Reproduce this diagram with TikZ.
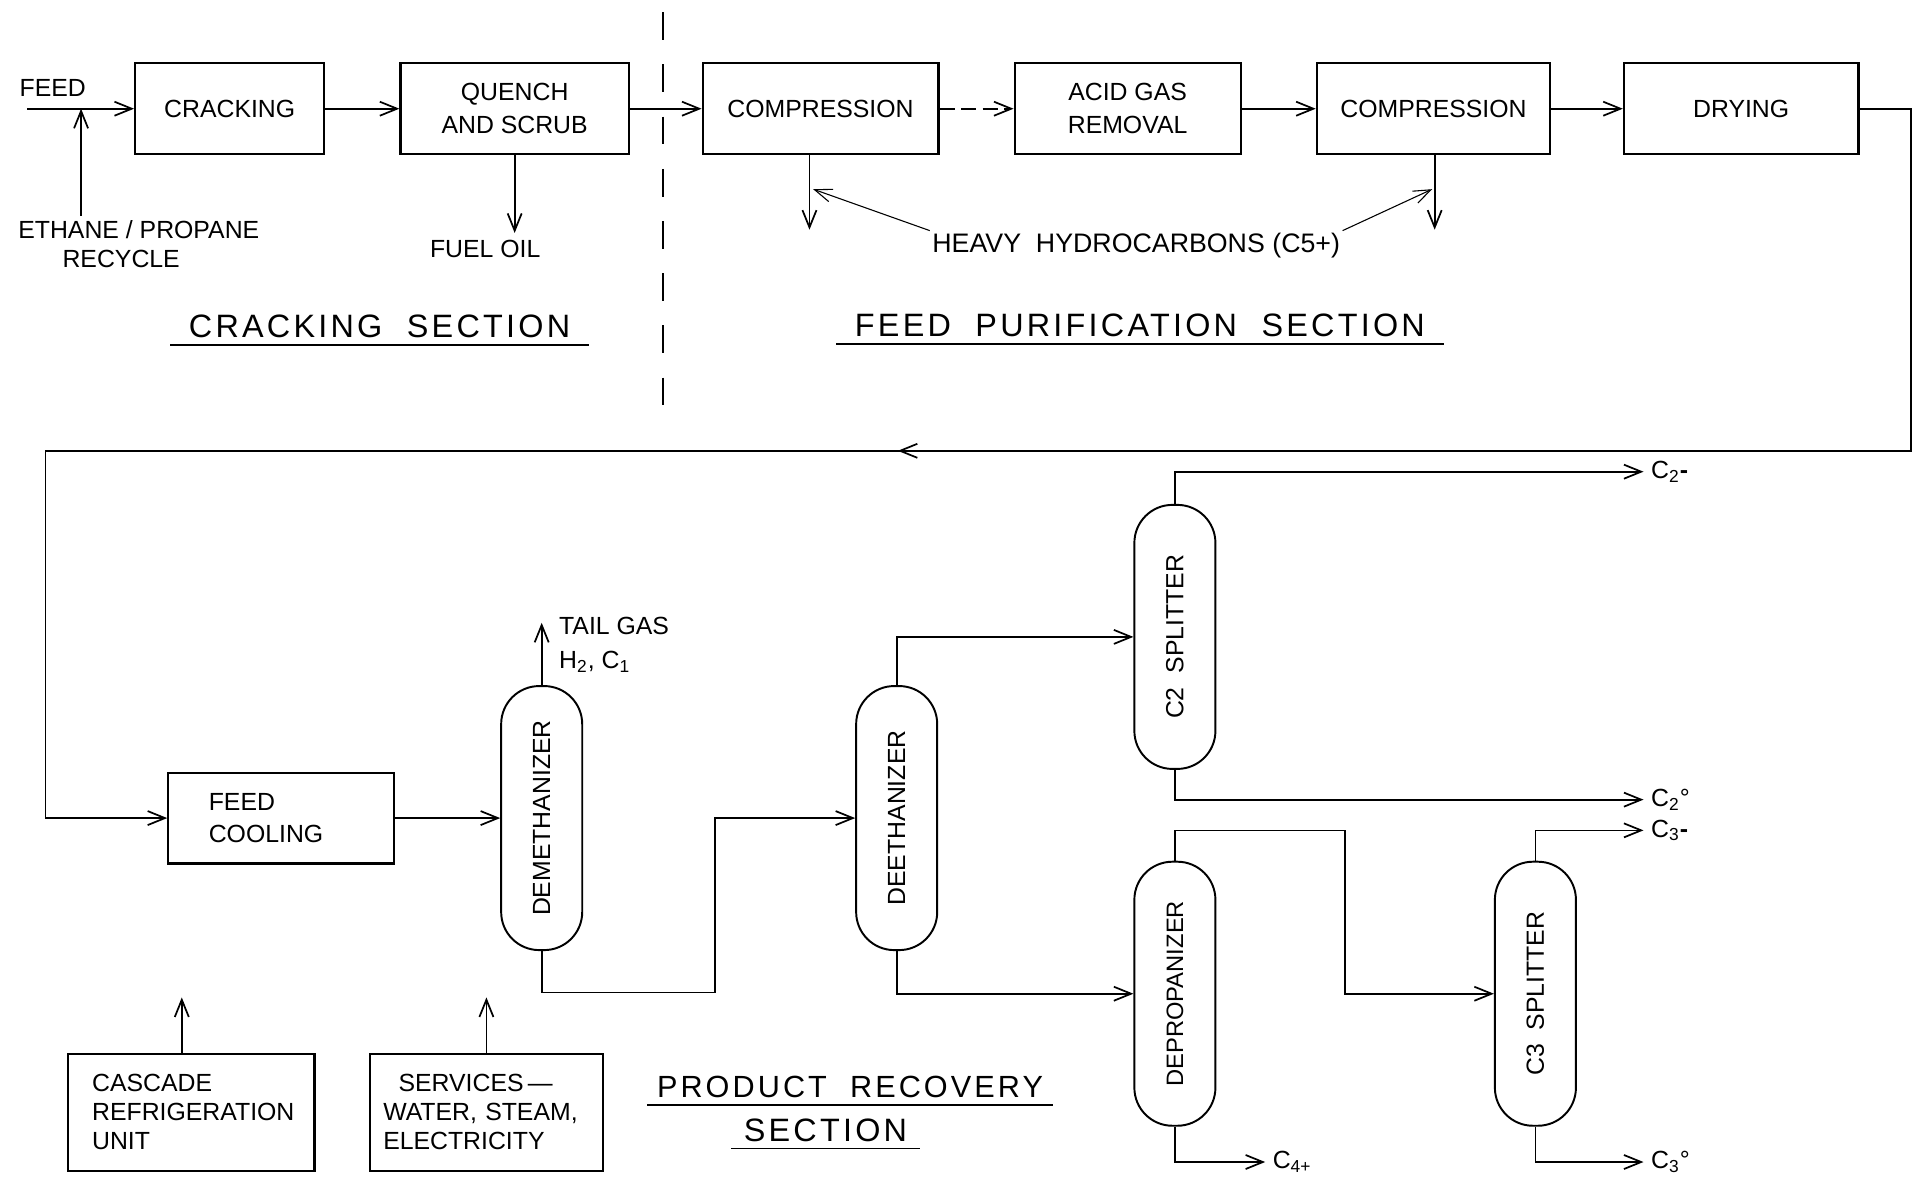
\documentclass[tikz,border=0pt]{standalone}
\usepackage{fontspec,graphicx}
\setmainfont{Liberation Sans}
\newfontfamily\titlefont[LetterSpace=10]{Liberation Sans}
\usetikzlibrary{arrows.meta,positioning,calc,decorations.markings}
\tikzset{
 unit/.style={draw,line width=1pt,minimum height=1.48cm,align=center,inner sep=2pt},
 column/.style={draw,line width=0.9pt,rounded corners=0.62cm,minimum width=1.32cm,minimum height=4.3cm,inner sep=0pt},
 flow/.style={line width=0.8pt,-{Straight Barb[length=8pt,width=6.5pt]}},
 leader/.style={line width=0.5pt,-{Straight Barb[length=8pt,width=6pt]}},
 title/.style={font=\titlefont\fontsize{15}{18}\selectfont,inner xsep=0.3cm,inner ysep=3pt},
 midarrow/.style={postaction={decorate},decoration={markings,
  mark=at position #1 with {\arrow{Straight Barb[length=8pt,width=6.5pt]}}}}
}
\begin{document}
\begin{tikzpicture}[x=0.02cm,y=-0.02cm,font=\fontsize{11.5}{13.5}\selectfont]
\useasboundingbox (0,0) rectangle (1568,965);

\node[unit,minimum width=3.08cm] (crack) at (187,88.5) {CRACKING};
\node[unit,minimum width=3.72cm] (quench) at (419,88.5) {QUENCH\\[2pt]AND SCRUB};
\node[unit,minimum width=3.84cm] (comp1) at (668,88.5) {COMPRESSION};
\node[unit,minimum width=3.68cm] (acid) at (918,88.5) {ACID GAS\\[2pt]REMOVAL};
\node[unit,minimum width=3.80cm] (comp2) at (1167,88.5) {COMPRESSION};
\node[unit,minimum width=3.82cm] (dry) at (1417.5,88.5) {DRYING};

\node (feedlbl) at (43,72) {FEED};
\coordinate (feedin) at (22,88.5);
\node[align=left] (recycle) at (113,199) {ETHANE / PROPANE\\\hspace*{0.72cm}RECYCLE};
\coordinate (rc) at (66,176);
\node (fuel) at (395,203) {FUEL OIL};
\node[inner sep=1pt,font=\fontsize{12.4}{14}\selectfont] (heavy) at (925,200) {HEAVY~~HYDROCARBONS (C5+)};
\coordinate (hc1) at (659,187);
\coordinate (hc2) at (1168,187);
\coordinate (tip1) at (662,154);
\coordinate (tip2) at (1166,154);

\draw[flow] (feedin) -- (crack);
\draw[flow] (rc) -- (rc |- crack.west);
\foreach \a/\b in {crack/quench,quench/comp1,acid/comp2,comp2/dry}
 \draw[flow] (\a) -- (\b);
\draw[flow,dash pattern=on 7pt off 3pt] (comp1) -- (acid);
\draw[flow] (quench.south) -- (quench.south |- fuel.north);
\draw[flow] (comp1.south -| hc1) -- (hc1);
\draw[flow] (comp2.south -| hc2) -- (hc2);
\draw[leader] (heavy.north west) -- (tip1);
\draw[leader] (heavy.north east) -- (tip2);

\draw[line width=0.8pt,dash pattern=on 0.45cm off 0.4cm] (540,10) -- (540,335);

\node[title] (crsec) at (309,266) {CRACKING\ \ SECTION};
\draw[line width=0.8pt] (crsec.south west) -- (crsec.south east);
\node[title] (fpsec) at (928,265) {FEED\ \ PURIFICATION\ \ SECTION};
\draw[line width=0.8pt] (fpsec.south west) -- (fpsec.south east);

\coordinate (loop1) at (1556,367);
\coordinate (loop2) at (37,367);
\node[unit,minimum width=3.68cm,text width=2.36cm,align=left] (cool) at (229,666) {FEED\\[1pt]COOLING};
\draw[flow,midarrow=0.512] (dry.east) -| (loop1) -- (loop2) |- (cool.west);

\node[column] (demeth) at (441,666) {\rotatebox{90}{DEMETHANIZER}};
\node[column] (deeth) at (730,666) {\rotatebox{90}{DEETHANIZER}};
\node[column] (c2s) at (956.5,518.5) {\rotatebox{90}{C2\ \ SPLITTER}};
\node[column] (deprop) at (956.5,809) {\rotatebox{90}{\fontsize{11}{13}\selectfont DEPROPANIZER}};
\node[column] (c3s) at (1250,809) {\rotatebox{90}{C3\ \ SPLITTER}};

\coordinate (tail) at (441,507);
\coordinate (jog1) at (582,808);
\coordinate (jog2) at (1095,676);
\coordinate (c2u) at (1338,384);
\coordinate (c2a) at (1338,651);
\coordinate (c3u) at (1338,676);
\coordinate (c3a) at (1338,946);
\coordinate (c4) at (1030,946);

\draw[flow] (cool) -- (demeth);
\draw[flow] (demeth.north) -- (tail);
\node[anchor=west,align=left] (tailtxt) at (449,525) {TAIL GAS\\[2pt]H\textsubscript{2}, C\textsubscript{1}};
\draw[flow] (demeth.south) |- (jog1) |- (deeth.west);
\draw[flow] (deeth.north) |- (c2s.west);
\draw[flow] (deeth.south) |- (deprop.west);
\draw[flow] (c2s.north) |- (c2u);
\draw[flow] (c2s.south) |- (c2a);
\draw[flow] (deprop.north) |- (jog2) |- (c3s.west);
\draw[flow] (deprop.south) |- (c4);
\draw[flow] (c3s.north) |- (c3u);
\draw[flow] (c3s.south) |- (c3a);
\node[anchor=west] (c2ulbl) at (c2u) {C\textsubscript{2}\textbf{-}};
\node[anchor=west] (c2albl) at (c2a) {C\textsubscript{2}°};
\node[anchor=west] (c3ulbl) at (c3u) {C\textsubscript{3}\textbf{-}};
\node[anchor=west] (c3albl) at (c3a) {C\textsubscript{3}°};
\node[anchor=west] (c4lbl) at (c4) {C\textsubscript{4+}};

\node[unit,minimum width=4.02cm,minimum height=1.9cm,text width=3.22cm,align=left] (casc) at (155.5,905.5) {CASCADE\\REFRIGERATION\\UNIT};
\node[unit,minimum width=3.8cm,minimum height=1.9cm,text width=3.36cm,align=left] (serv) at (396,905.5) {\hspace*{0.25cm}SERVICES\,—\\WATER, STEAM,\\ELECTRICITY};
\coordinate (cascup) at (148,812);
\coordinate (servup) at (396,812);
\draw[flow] (casc.north -| cascup) -- (cascup);
\draw[flow] (serv.north) -- (servup);

\node[title,font=\titlefont\fontsize{14.2}{17}\selectfont,inner xsep=0.15cm] (prsec) at (692,885) {PRODUCT\ \ RECOVERY};
\draw[line width=0.8pt] (prsec.south west) -- (prsec.south east);
\node[title,inner xsep=0.2cm] (prsec2) at (672,920) {SECTION};
\draw[line width=0.8pt] (prsec2.south west) -- (prsec2.south east);
\end{tikzpicture}
\end{document}
